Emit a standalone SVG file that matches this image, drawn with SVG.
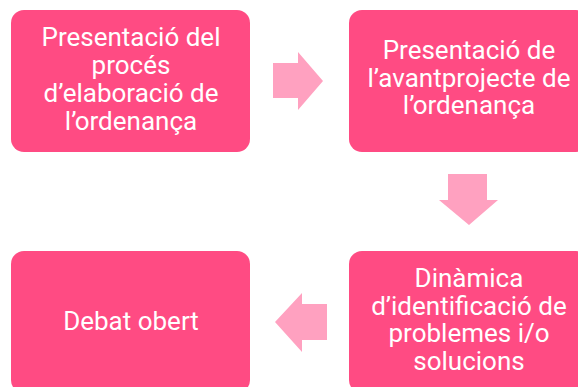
<svg xmlns="http://www.w3.org/2000/svg" width="578" height="387" viewBox="0 0 578 387">
<style>
.box{fill:#FF4B83;}
.arr{fill:#FFA1C0;}
text{font-family:Roboto,"Liberation Sans",sans-serif;font-size:26px;font-weight:400;fill:#FFFFFF;text-anchor:middle;}
</style>
<rect width="578" height="387" fill="#FFFFFF"/>
<g id="connectors">
<polygon class="arr" points="273,63 298,63 298,52 323,81 298,110 298,98 273,98"/>
<polygon class="arr" points="448,174 487,174 487,200 498,200 469,225 439,200 448,200"/>
<polygon class="arr" points="327,304 302,304 302,293 275,322 302,352 302,340 327,340"/>
</g>
<g id="node1">
<rect class="box" x="11" y="10" width="239" height="142" rx="13"/>
<text x="131" y="46">Presentació del</text>
<text x="131" y="74">procés</text>
<text x="131" y="102">d’elaboració de</text>
<text x="131" y="130">l’ordenança</text>
</g>
<g id="node2">
<rect class="box" x="349" y="10" width="240" height="142" rx="13"/>
<text x="469" y="59">Presentació de</text>
<text x="469" y="87">l’avantprojecte de</text>
<text x="469" y="114">l’ordenança</text>
</g>
<g id="node3">
<rect class="box" x="349" y="251" width="240" height="142" rx="13"/>
<text x="469" y="287">Dinàmica</text>
<text x="469" y="315">d’identificació de</text>
<text x="469" y="342">problemes i/o</text>
<text x="469" y="370">solucions</text>
</g>
<g id="node4">
<rect class="box" x="11" y="251" width="239" height="142" rx="13"/>
<text x="131" y="330">Debat obert</text>
</g>
</svg>
